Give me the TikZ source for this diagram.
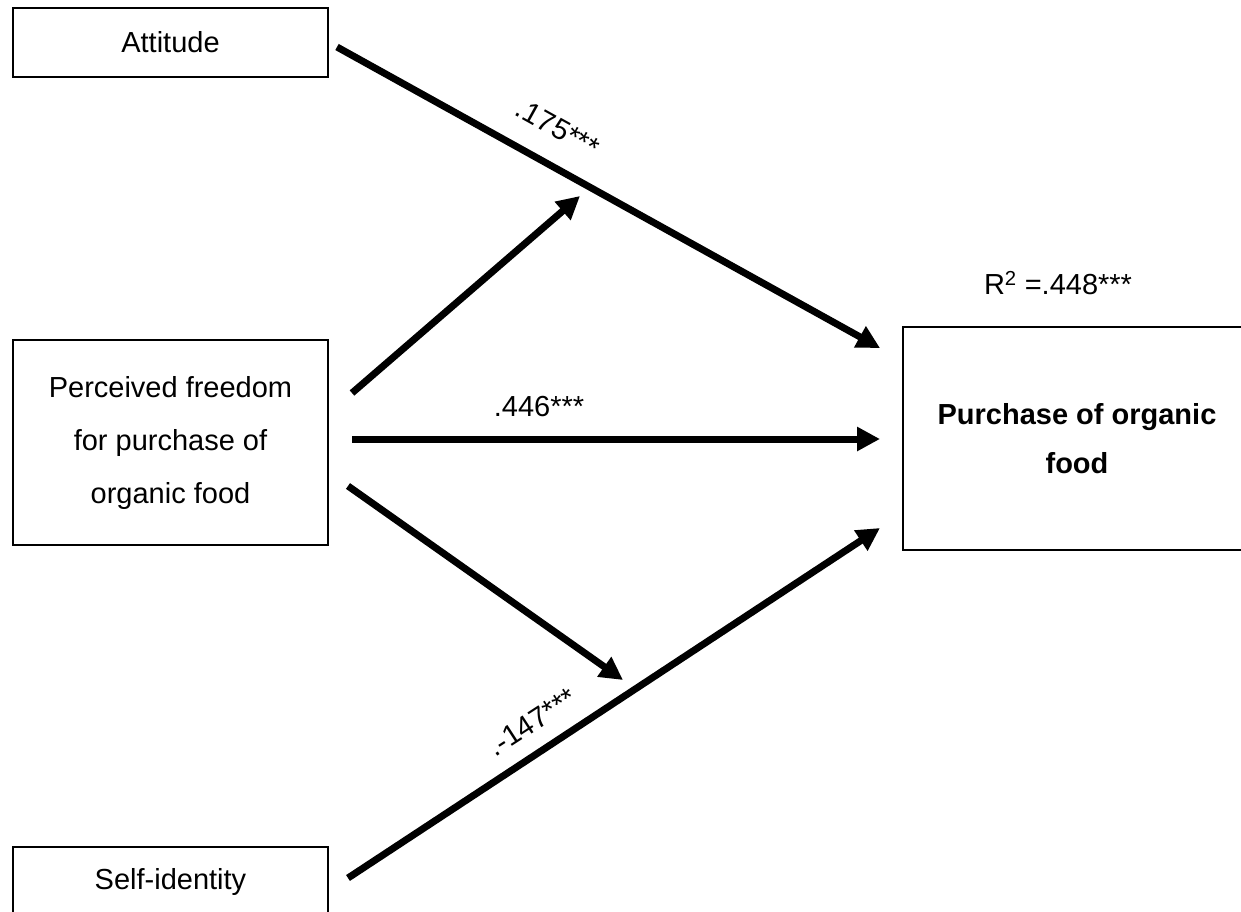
\documentclass[tikz,border=0pt]{standalone}
\usepackage{fontspec}
\setmainfont{Liberation Sans}
\usetikzlibrary{arrows.meta}

\tikzset{
  box/.style={draw=black, line width=1.2pt, rectangle, inner sep=0pt, align=center,
              font=\fontsize{29}{53}\selectfont},
  path/.style={line width=7pt, -{Triangle[length=23pt,width=23pt]}},
  coef/.style={font=\fontsize{29}{34}\selectfont, inner sep=0pt}
}

\begin{document}
\begin{tikzpicture}[x=1pt,y=-1pt]
  \useasboundingbox (0,0) rectangle (1241,912);

  % predictor boxes
  \node[box, minimum width=315pt, minimum height=69pt] (att) at (170.5,42.5) {Attitude};
  \node[box, minimum width=315pt, minimum height=205pt] (pf) at (170.5,442.5)
       {Perceived freedom\\for purchase of\\organic food};
  \node[box, minimum width=315pt, minimum height=69pt] (si) at (170.5,881.5) {Self-identity};

  % outcome box
  \node[box, minimum width=348pt, minimum height=223pt, font=\fontsize{29}{49}\selectfont\bfseries]
       (pur) at (1077,438.5) {Purchase of organic\\food};
  \node[coef] (r2) at (1058,283) {R\textsuperscript{2} =.448***};

  % arrow end points
  \coordinate (attS) at (337,47);
  \coordinate (attE) at (880,348);
  \coordinate (pfUS) at (352,393);
  \coordinate (pfUE) at (580,196);
  \coordinate (pfMS) at (352,439);
  \coordinate (pfME) at (880,439);
  \coordinate (pfDS) at (348,486);
  \coordinate (pfDE) at (623,680);
  \coordinate (siS) at (348,878);
  \coordinate (siE) at (880,528);

  \draw[path] (attS) -- (attE);
  \draw[path] (pfUS) -- (pfUE);
  \draw[path] (pfMS) -- (pfME);
  \draw[path] (pfDS) -- (pfDE);
  \draw[path] (siS) -- (siE);

  % path coefficients
  \node[coef, rotate=-29] (c1) at (558,128) {.175***};
  \node[coef] (c2) at (539,407) {.446***};
  \node[coef, rotate=33] (c3) at (532,722) {.-147***};
\end{tikzpicture}
\end{document}
